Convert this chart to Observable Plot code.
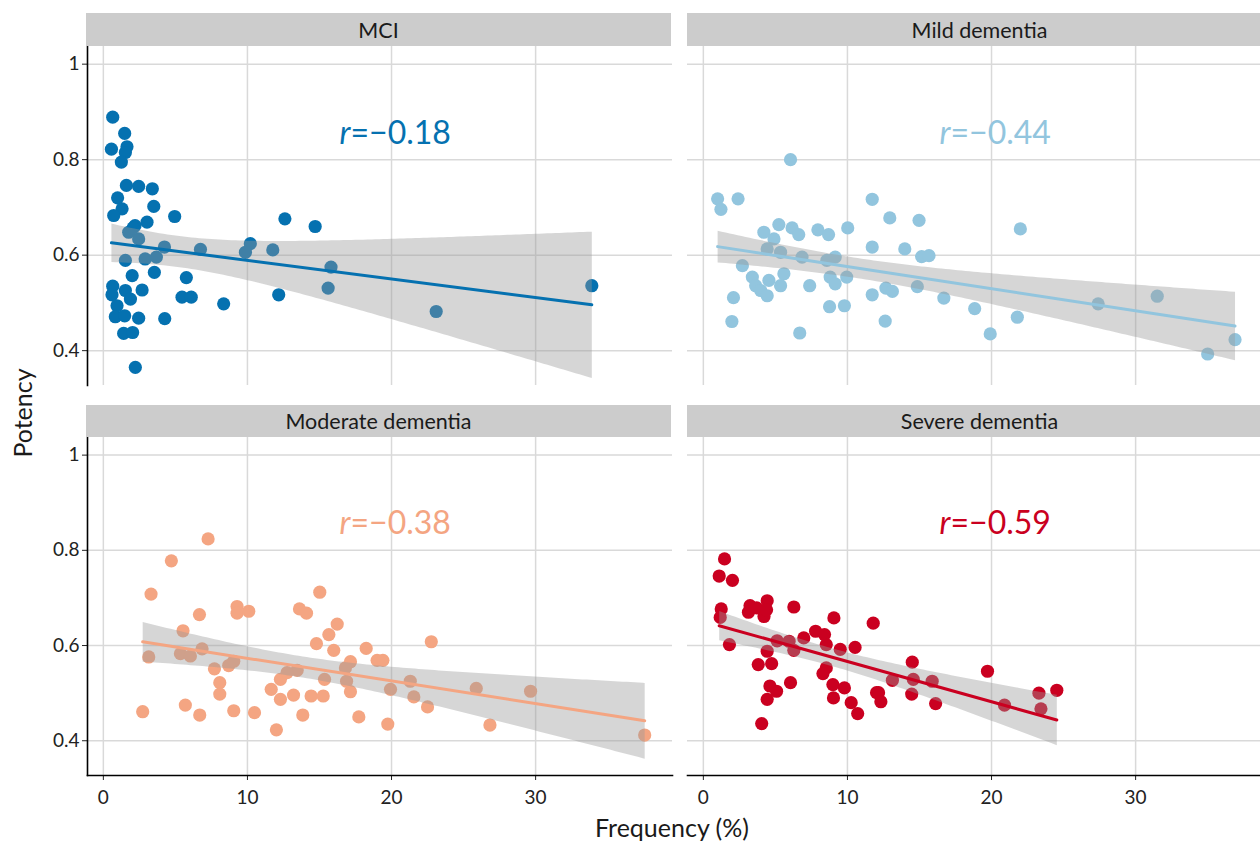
<!DOCTYPE html>
<html><head><meta charset="utf-8">
<script src="https://cdn.jsdelivr.net/npm/d3@7"></script>
<script src="https://cdn.jsdelivr.net/npm/@observablehq/plot@0.6"></script>
<style>
body{margin:0;background:#fff;overflow:hidden;font-family:Lato,sans-serif}
#root{position:relative;width:1260px;height:843px;overflow:hidden;background:#fff}
.strip{position:absolute;background:#cccccc;color:#1a1a1a;font:21.5px Lato,sans-serif;display:flex;align-items:center;justify-content:center}
.panel{position:absolute;width:700px}
.panel svg{overflow:visible;max-width:none !important}
.title{position:absolute;color:#1a1a1a;font:25px Lato,sans-serif;white-space:nowrap;line-height:28px}
</style></head><body><div id="root"></div><script>
// ---- data ----
const groups = ["MCI", "Mild dementia", "Moderate dementia", "Severe dementia"];
const colors = ["#0571b0", "#92c5de", "#f4a582", "#ca0020"];
const rLabels = ["=\u22120.18", "=\u22120.44", "=\u22120.38", "=\u22120.59"];
const xTicks = [0, 10, 20, 30];
const yTicks = [0.4, 0.6, 0.8, 1];
const xTitle = "Frequency (%)";
const yTitle = "Potency";

const mciX = [0.65,1.48,0.56,1.64,1.53,1.25,1.6,2.45,3.4,0.99,1.3,0.72,3.5,4.95,3.03,2.2,1.76,2.45,2.06,4.24,6.74,1.53,2.9,3.68,2.0,3.54,5.76,0.65,2.69,1.53,0.6,1.88,5.46,6.1,8.35,0.95,0.83,1.48,2.45,4.26,1.41,2.03,2.22,10.2,9.86,12.6,14.7,11.76,15.8,12.17,15.6,23.1,33.9];
const mciY = [0.889,0.855,0.822,0.827,0.815,0.795,0.746,0.744,0.739,0.72,0.697,0.683,0.702,0.681,0.669,0.662,0.648,0.634,0.657,0.617,0.612,0.589,0.592,0.596,0.557,0.564,0.553,0.535,0.527,0.526,0.517,0.508,0.512,0.512,0.498,0.494,0.471,0.473,0.468,0.467,0.436,0.438,0.365,0.624,0.606,0.676,0.66,0.611,0.575,0.517,0.531,0.482,0.536];

const mildX = [6.05,0.99,1.22,2.41,5.24,4.2,4.9,6.16,6.62,7.95,8.69,10.02,4.43,5.36,6.85,8.57,9.15,2.71,3.4,5.59,4.55,3.63,5.36,3.98,4.43,7.38,8.8,9.15,9.95,2.09,8.76,9.79,1.98,6.69,11.72,11.72,11.72,12.94,14.97,13.98,15.15,15.66,12.67,13.12,14.85,16.69,18.83,12.62,19.91,21.79,22.0,27.4,31.5,35.0,36.9];
const mildY = [0.80,0.718,0.696,0.718,0.664,0.648,0.634,0.657,0.643,0.653,0.643,0.657,0.613,0.606,0.596,0.589,0.596,0.578,0.554,0.561,0.547,0.536,0.536,0.526,0.515,0.536,0.554,0.54,0.554,0.511,0.492,0.494,0.461,0.437,0.717,0.617,0.517,0.678,0.673,0.613,0.597,0.599,0.531,0.524,0.534,0.51,0.488,0.462,0.435,0.47,0.655,0.498,0.514,0.393,0.423];

const modX = [7.27,4.72,3.31,9.28,9.28,10.09,6.67,5.53,3.15,5.35,6.04,6.85,7.71,8.7,9.05,8.08,8.08,11.65,12.29,12.29,2.73,5.69,6.69,9.05,10.49,12.01,15.02,13.61,14.1,16.23,15.65,14.79,15.99,18.24,17.15,19.0,19.4,22.76,16.8,13.45,12.75,15.35,16.88,17.15,19.93,21.3,21.55,22.5,13.2,14.42,15.26,13.84,17.73,19.74,25.88,29.65,26.83,37.57];
const modY = [0.824,0.778,0.708,0.682,0.668,0.672,0.665,0.631,0.576,0.583,0.578,0.593,0.551,0.558,0.567,0.522,0.498,0.508,0.529,0.487,0.461,0.475,0.454,0.463,0.459,0.423,0.712,0.677,0.668,0.645,0.623,0.604,0.59,0.594,0.566,0.569,0.569,0.608,0.553,0.548,0.543,0.529,0.525,0.503,0.508,0.525,0.492,0.471,0.496,0.494,0.494,0.454,0.45,0.435,0.51,0.504,0.433,0.412];

const sevX = [1.47,1.1,2.02,1.24,1.17,1.81,3.24,3.13,3.7,4.43,4.21,4.39,6.28,9.06,11.79,4.43,5.12,5.95,6.28,6.97,7.79,8.41,8.53,9.5,10.53,3.81,4.74,8.53,8.3,4.62,5.08,6.05,4.43,8.99,9.79,9.03,10.26,10.71,4.05,12.02,14.5,13.12,14.57,15.88,12.16,12.32,14.46,16.12,19.72,20.9,23.29,23.43,24.53];
const sevY = [0.782,0.746,0.737,0.677,0.659,0.602,0.684,0.67,0.679,0.694,0.661,0.675,0.681,0.658,0.647,0.588,0.61,0.609,0.59,0.616,0.63,0.623,0.602,0.592,0.596,0.56,0.562,0.553,0.541,0.515,0.504,0.522,0.487,0.518,0.511,0.49,0.48,0.457,0.436,0.501,0.565,0.527,0.529,0.525,0.501,0.482,0.498,0.478,0.546,0.475,0.5,0.467,0.506];

const seriesX = [mciX, mildX, modX, sevX];
const seriesY = [mciY, mildY, modY, sevY];

// ---- layout ----
const xDomain = [-1.1, 39.5];
const yDomain = [0.327, 1.037];
const panelW = 585;
const cols = [87, 687];
const rows = [{top: 46, h: 339, stripTop: 13}, {top: 437, h: 338, stripTop: 405}];
const mL = 40, mB = 42;
const labelX = 20, labelY = 0.855;
const gridStyle = {stroke: "#d9d9d9", strokeOpacity: 1, strokeWidth: 1.5};

const root = document.getElementById("root");

groups.forEach((g, i) => {
  const col = i % 2, row = Math.floor(i / 2);
  const R = rows[row];
  const left = col === 0, bottom = row === 1;
  const data = seriesX[i].map((x, k) => ({x, y: seriesY[i][k]}));
  const marks = [
    Plot.gridX({ticks: xTicks, ...gridStyle}),
    Plot.gridY({ticks: yTicks, ...gridStyle}),
    Plot.dot(data, {x: "x", y: "y", r: 6.6, fill: colors[i], stroke: "none"}),
    Plot.linearRegressionY(data, {x: "x", y: "y", stroke: colors[i], strokeWidth: 3, fill: "#999999", fillOpacity: 0.4}),
    Plot.text([rLabels[i]], {x: () => labelX, y: () => labelY, text: () => "r", fontStyle: "italic", textAnchor: "end", dx: -41, fontSize: 32, fill: colors[i], fontFamily: "Lato"}),
    Plot.text([rLabels[i]], {x: () => labelX, y: () => labelY, text: d => d, textAnchor: "start", dx: -41, fontSize: 32, fill: colors[i], fontFamily: "Lato"})
  ];
  if (left) {
    marks.push(Plot.axisY({ticks: yTicks, tickFormat: d => `${d}`, tickSize: 5, tickPadding: 3, fontSize: 19, color: "#222", label: null}));
    marks.push(Plot.frame({anchor: "left", stroke: "#000", strokeWidth: 1.6}));
  }
  if (bottom) {
    marks.push(Plot.axisX({ticks: xTicks, tickFormat: d => `${d}`, tickSize: 5, tickPadding: 10, fontSize: 19, color: "#222", label: null}));
    marks.push(Plot.frame({anchor: "bottom", stroke: "#000", strokeWidth: 1.6}));
  }
  const chart = Plot.plot({
    width: panelW + (left ? mL : 0),
    height: R.h + (bottom ? mB : 0),
    marginLeft: left ? mL : 0,
    marginRight: 0,
    marginTop: 0,
    marginBottom: bottom ? mB : 0,
    style: {fontFamily: "Lato, sans-serif", background: "transparent", overflow: "visible", maxWidth: "none"},
    x: {domain: xDomain, ...(bottom ? {} : {axis: null})},
    y: {domain: yDomain, ...(left ? {} : {axis: null})},
    marks
  });
  const wrap = document.createElement("div");
  wrap.className = "panel";
  wrap.style.left = (cols[col] - (left ? mL : 0)) + "px";
  wrap.style.top = R.top + "px";
  wrap.appendChild(chart);
  root.appendChild(wrap);

  const strip = document.createElement("div");
  strip.className = "strip";
  strip.style.left = (cols[col] - (left ? 1 : 0)) + "px";
  strip.style.top = R.stripTop + "px";
  strip.style.width = panelW + "px";
  strip.style.height = (R.top - R.stripTop) + "px";
  strip.textContent = g;
  root.appendChild(strip);
});

const yt = document.createElement("div");
yt.className = "title";
yt.textContent = yTitle;
yt.style.left = "22px"; yt.style.top = "413px";
yt.style.transform = "translate(-50%,-50%) rotate(-90deg)";
root.appendChild(yt);

const xt = document.createElement("div");
xt.className = "title";
xt.textContent = xTitle;
xt.style.left = "672px"; xt.style.top = "827px";
xt.style.transform = "translate(-50%,-50%)";
root.appendChild(xt);
</script></body></html>
